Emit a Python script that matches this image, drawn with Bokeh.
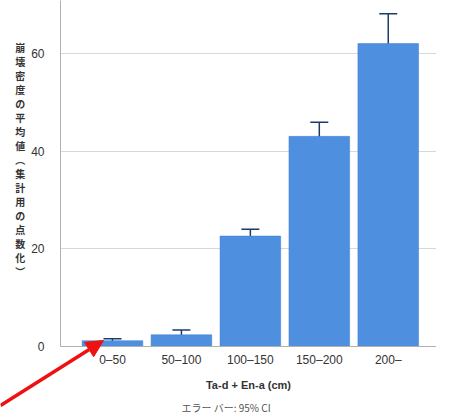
from bokeh.plotting import figure
from bokeh.layouts import column, row
from bokeh.models import Range1d, Whisker, ColumnDataSource, FixedTicker, Label, Arrow, NormalHead
from bokeh.embed import file_html
from bokeh.resources import INLINE

categories = ["0\u201350", "50\u2013100", "100\u2013150", "150\u2013200", "200\u2013"]
means = [1.2, 2.4, 22.6, 43.0, 62.0]
ci_low = [0.9, 1.7, 21.2, 40.4, 56.2]
ci_high = [1.6, 3.4, 24.0, 45.9, 68.1]
y_ticks = [0, 20, 40, 60]
y_title = "崩壊密度の平均値︵集計用の点数化︶"
x_title = "Ta-d + En-a (cm)"
footnote = "エラー バー: 95% CI"

xs = list(range(len(categories)))
src = ColumnDataSource(dict(x=xs, top=means, lo=ci_low, hi=ci_high))

LEFT, FW, FH, BOTTOM = 60, 376, 346, 68
p = figure(frame_width=FW, frame_height=FH, output_backend="svg", toolbar_location=None,
           x_range=Range1d(-0.754, 4.70), y_range=Range1d(0, 70.8),
           min_border_left=LEFT, min_border_right=0, min_border_top=0, min_border_bottom=BOTTOM)
p.outline_line_color = None
p.background_fill_color = "white"

p.vbar(x="x", top="top", width=0.88, bottom=0, source=src,
       fill_color="#4f8fe0", line_color="#3f7fd0", line_width=0.5)

w = Whisker(base="x", lower="lo", upper="hi", source=src,
            line_color="#1c3b66", line_width=1.5)
for h in (w.upper_head, w.lower_head):
    h.size = 18
    h.line_color = "#1c3b66"
    h.line_width = 1.5
p.add_layout(w)

p.xgrid.grid_line_color = None
p.ygrid.grid_line_color = "#d8d8d8"
p.ygrid.ticker = FixedTicker(ticks=y_ticks)

p.yaxis.ticker = FixedTicker(ticks=y_ticks)
p.xaxis.ticker = FixedTicker(ticks=xs)
p.xaxis.major_label_overrides = {i: c for i, c in enumerate(categories)}

for ax in (p.xaxis[0], p.yaxis[0]):
    ax.axis_line_color = "#b0b0b0"
    ax.major_tick_line_color = None
    ax.major_tick_out = 0
    ax.major_tick_in = 0
    ax.minor_tick_line_color = None
    ax.minor_tick_out = 0
    ax.major_label_text_font = "Liberation Sans"
    ax.major_label_text_font_size = "12px"
    ax.major_label_text_color = "#333333"

p.yaxis.major_label_standoff = 16
p.xaxis.major_label_standoff = 6

p.xaxis.axis_label = x_title
p.xaxis.axis_label_text_font = "Liberation Sans"
p.xaxis.axis_label_text_font_size = "11px"
p.xaxis.axis_label_text_font_style = "bold"
p.xaxis.axis_label_text_color = "#333333"
p.xaxis.axis_label_standoff = 9

# upright vertical title; trailing blank lines lift its centre a little
p.yaxis.axis_label = "\n".join(list(y_title) + ["\u3000"] * 2)
p.yaxis.axis_label_orientation = "horizontal"
p.yaxis.axis_label_text_font = "Noto Sans CJK JP"
p.yaxis.axis_label_text_font_size = "10px"
p.yaxis.axis_label_text_font_style = "bold"
p.yaxis.axis_label_text_color = "#333333"
p.yaxis.axis_label_text_line_height = 0.93
p.yaxis.axis_label_standoff = 3

p.add_layout(Label(x=121, y=1, x_units="screen", y_units="screen",
                   text=footnote, text_font="Noto Sans CJK JP", text_font_size="10px",
                   text_color="#555555", text_align="left", text_baseline="middle"), "below")

# transparent overlay (same size as the chart) carrying the red pointer arrow
CW, CH = LEFT + FW, FH + BOTTOM
ov = figure(width=CW, height=CH, output_backend="svg", toolbar_location=None,
            x_range=Range1d(0, CW), y_range=Range1d(CH, 0),
            x_axis_location=None, y_axis_location=None,
            min_border=0, min_border_left=0, min_border_right=0,
            min_border_top=0, min_border_bottom=0)
ov.grid.visible = False
ov.outline_line_color = None
ov.background_fill_alpha = 0
ov.border_fill_alpha = 0
arrow_from = (0, 405)
arrow_to = (103, 340)
ov.add_layout(Arrow(x_start=arrow_from[0], y_start=arrow_from[1],
                    x_end=arrow_to[0], y_end=arrow_to[1],
                    line_color="#ee1111", line_width=3.5,
                    end=NormalHead(size=17, fill_color="#ee1111", line_color="#ee1111")))

holder = row(ov)
holder.styles = {"position": "absolute", "left": "0px", "top": "0px", "pointer-events": "none"}

layout = column(p, holder, spacing=0)
layout.styles = {"position": "relative"}

open("out.html", "w").write(file_html(layout, INLINE))
